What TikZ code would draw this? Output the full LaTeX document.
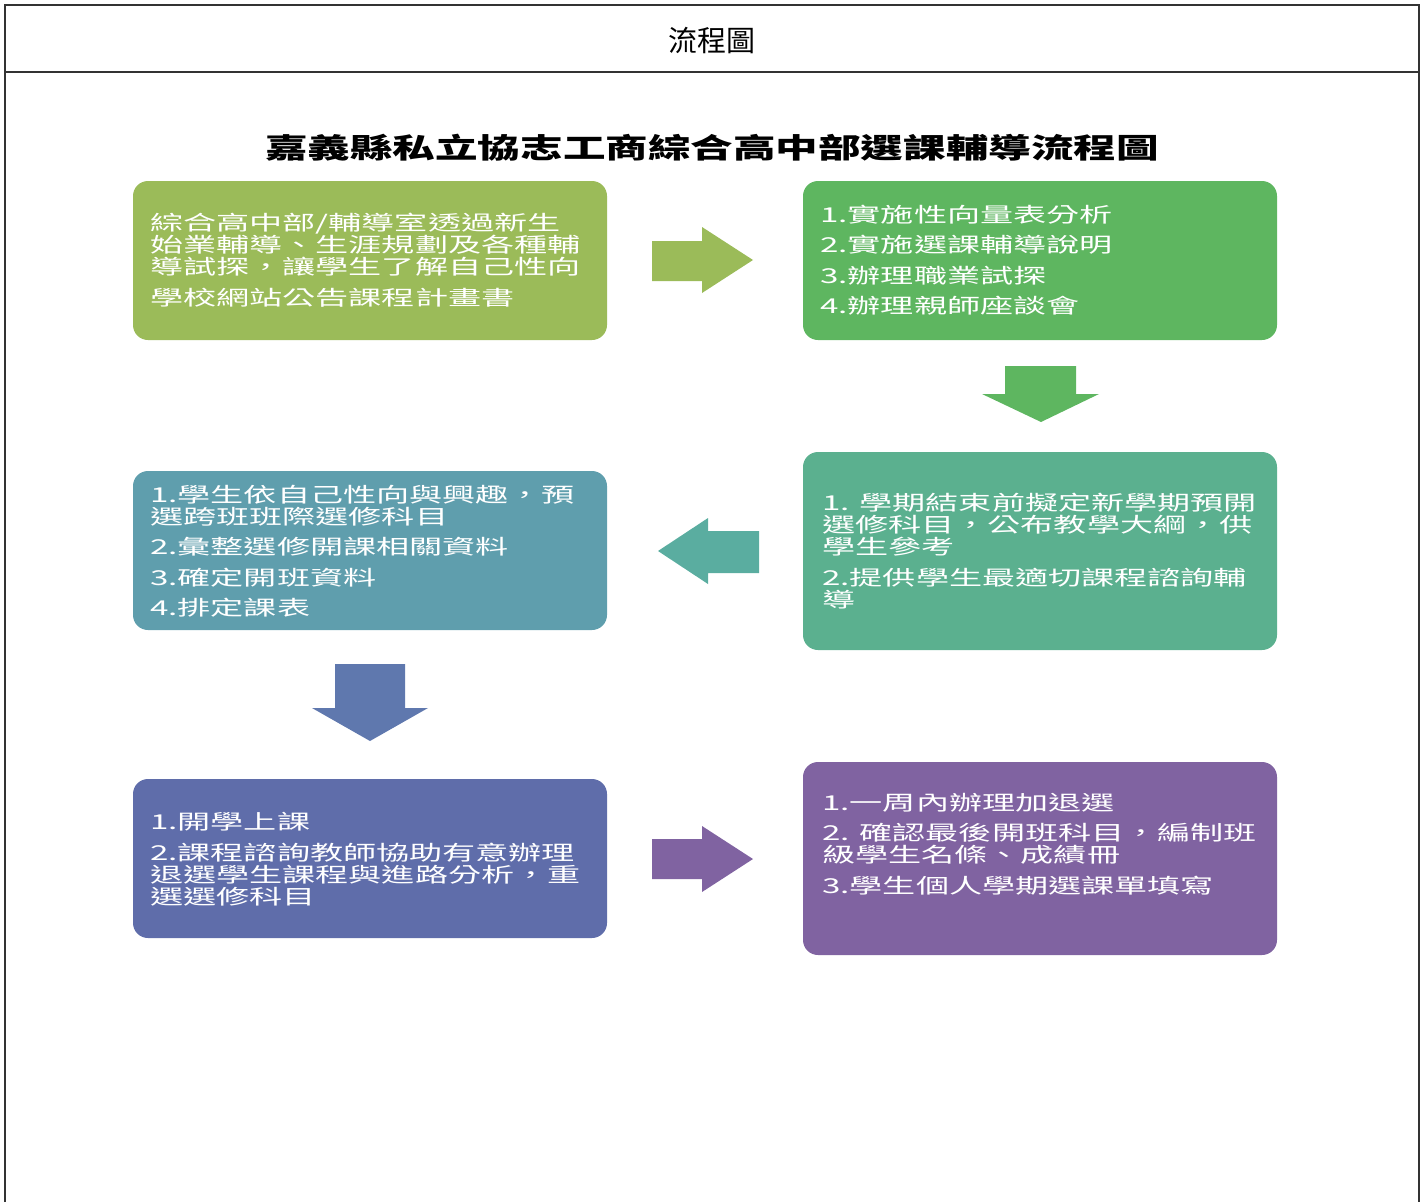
\documentclass[tikz,border=0pt]{standalone}
\usepackage{graphicx}
\usepackage{fontspec}
\newfontfamily\cjk{Noto Sans CJK TC}
\newcommand\sxt[1]{\scalebox{1.615}[1]{\parbox[t]{400pt}{\raggedright\lineskiplimit=-100pt\lineskip=0pt\baselineskip=22pt #1}}}
\definecolor{cA}{HTML}{9BBB59}
\definecolor{cB}{HTML}{5EB660}
\definecolor{cC}{HTML}{5BB08F}
\definecolor{cD}{HTML}{5F9EAD}
\definecolor{cE}{HTML}{5F6DAA}
\definecolor{cF}{HTML}{8063A1}
\definecolor{aC}{HTML}{5AADA0}
\definecolor{aE}{HTML}{5F78AE}
\definecolor{frame}{HTML}{333333}
\tikzset{
  box/.style={rectangle, rounded corners=15pt, minimum width=474pt, inner sep=0pt, draw=none},
  txt/.style={anchor=base west, inner sep=0pt, text=white, font=\cjk\fontsize{20.5}{22}\selectfont},
  frameline/.style={draw=frame, line width=2.5pt},
}
\begin{document}
\begin{tikzpicture}[x=1pt,y=-1pt]
\useasboundingbox (0,0) rectangle (1426,1202);
% frame
\coordinate (fbl) at (5,1202);
\coordinate (ftl) at (5,5);
\coordinate (ftr) at (1419,5);
\coordinate (fbr) at (1419,1202);
\coordinate (hl) at (5,72);
\coordinate (hr) at (1419,72);
\draw[frameline] (fbl) -- (ftl) -- (ftr) -- (fbr);
\draw[frameline] (hl) -- (hr);
\node[font=\cjk\fontsize{29}{30}\selectfont] (head) at (712,40) {流程圖};
\node[font=\cjk\bfseries\fontsize{28}{30}\selectfont] (title) at (712,148) {\scalebox{1.52}[1]{嘉義縣私立協志工商綜合高中部選課輔導流程圖}};
% boxes
\node[box, fill=cA, minimum height=159pt] (b1) at (370,260.5) {};
\node[box, fill=cB, minimum height=159pt] (b2) at (1040,260.5) {};
\node[box, fill=cC, minimum height=198pt] (b3) at (1040,551) {};
\node[box, fill=cD, minimum height=159pt] (b4) at (370,550.5) {};
\node[box, fill=cE, minimum height=159pt] (b5) at (370,858.5) {};
\node[box, fill=cF, minimum height=193pt] (b6) at (1040,858.5) {};
% texts
\node[txt] (t1) at (150,230) {\sxt{綜合高中部/輔導室透過新生\\始業輔導、生涯規劃及各種輔\\導試探，讓學生了解自己性向\\[9pt]學校網站公告課程計畫書}};
\node[txt] (t2) at (820,222) {\sxt{1.實施性向量表分析\\[8.5pt]2.實施選課輔導說明\\[8.5pt]3.辦理職業試探\\[8.5pt]4.辦理親師座談會}};
\node[txt] (t3) at (822,510) {\sxt{1. 學期結束前擬定新學期預開\\選修科目，公布教學大綱，供\\學生參考\\[9pt]2.提供學生最適切課程諮詢輔\\導}};
\node[txt] (t4) at (150,502) {\sxt{1.學生依自己性向與興趣，預\\選跨班班際選修科目\\[8pt]2.彙整選修開課相關資料\\[9pt]3.確定開班資料\\[8pt]4.排定課表}};
\node[txt] (t5) at (150,829) {\sxt{1.開學上課\\[9pt]2.課程諮詢教師協助有意辦理\\退選學生課程與進路分析，重\\選選修科目}};
\node[txt] (t6) at (822,810) {\sxt{1.一周內辦理加退選\\[8pt]2. 確認最後開班科目，編制班\\級學生名條、成績冊\\[9pt]3.學生個人學期選課單填寫}};
% block arrows
\fill[cA] (652,241)--(702,241)--(702,227)--(753,260)--(702,293)--(702,281)--(652,281)--cycle;
\fill[cB] (1005,366)--(1076,366)--(1076,394)--(1099,394)--(1041,422)--(982,394)--(1005,394)--cycle;
\fill[aC] (759,531)--(708,531)--(708,518)--(658,551)--(708,584)--(708,573)--(759,573)--cycle;
\fill[aE] (335,664)--(405,664)--(405,708)--(428,708)--(370,741)--(312,708)--(335,708)--cycle;
\fill[cF] (652,839)--(702,839)--(702,826)--(753,859)--(702,892)--(702,879)--(652,879)--cycle;
\end{tikzpicture}
\end{document}
